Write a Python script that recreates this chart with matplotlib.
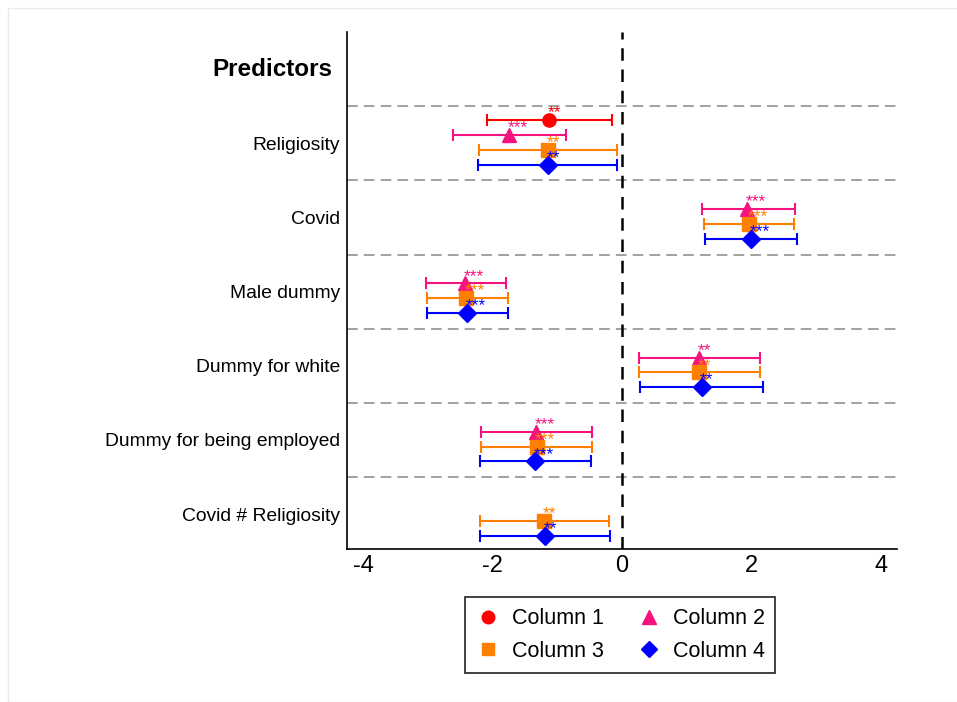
import numpy as np
import matplotlib; matplotlib.use('Agg')
import matplotlib.pyplot as plt
from matplotlib.lines import Line2D
from matplotlib.patches import Rectangle

plt.rcParams['font.family'] = ['Liberation Sans', 'DejaVu Sans']

# ── Data ──────────────────────────────────────────────────────────────────────
predictors = ['Religiosity', 'Covid', 'Male dummy', 'Dummy for white',
              'Dummy for being employed', 'Covid # Religiosity']

# coefficient, lower CI, upper CI, stars per predictor (None = not in model)
col1_coef  = [-1.13, None, None, None, None, None]
col1_lo    = [-2.09, None, None, None, None, None]
col1_hi    = [-0.15, None, None, None, None, None]
col1_stars = ['**', '', '', '', '', '']

col2_coef  = [-1.74, 1.93, -2.42, 1.19, -1.33, None]
col2_lo    = [-2.61, 1.24, -3.03, 0.27, -2.18, None]
col2_hi    = [-0.86, 2.67, -1.79, 2.14, -0.47, None]
col2_stars = ['***', '***', '***', '**', '***', '']

col3_coef  = [-1.14, 1.97, -2.41, 1.19, -1.32, -1.20]
col3_lo    = [-2.21, 1.27, -3.01, 0.27, -2.18, -2.19]
col3_hi    = [-0.08, 2.66, -1.76, 2.14, -0.47, -0.20]
col3_stars = ['**', '***', '***', '**', '***', '**']

col4_coef  = [-1.14, 1.99, -2.39, 1.23, -1.34, -1.19]
col4_lo    = [-2.22, 1.29, -3.01, 0.28, -2.19, -2.19]
col4_hi    = [-0.07, 2.70, -1.76, 2.18, -0.48, -0.19]
col4_stars = ['**', '***', '***', '**', '***', '**']

series = [
    ('Column 1', col1_coef, col1_lo, col1_hi, col1_stars, '#FF0000', 'o', 9.5, -0.31),
    ('Column 2', col2_coef, col2_lo, col2_hi, col2_stars, '#F5137F', '^', 10, -0.11),
    ('Column 3', col3_coef, col3_lo, col3_hi, col3_stars, '#FF7F00', 's', 9.5, 0.09),
    ('Column 4', col4_coef, col4_lo, col4_hi, col4_stars, '#0000FF', 'D', 9, 0.29),
]

# ── Figure ────────────────────────────────────────────────────────────────────
fig = plt.figure(figsize=(9.57, 7.02), dpi=100)
fig.patches.append(Rectangle((8/957, 0), 1, 1 - 8/702, transform=fig.transFigure,
                             fill=False, ec='#e6ebeb', lw=1))
ax = fig.add_axes([347/957, 1 - 549/702, 550/957, 517/702])

rows = np.arange(len(predictors))

for name, coef, lo, hi, stars, col, mk, ms, off in series:
    for i in rows:
        if coef[i] is None:
            continue
        y = i + off
        ax.errorbar(coef[i], y, xerr=[[coef[i] - lo[i]], [hi[i] - coef[i]]],
                    fmt='none', ecolor=col, elinewidth=1.5, capsize=4.5,
                    capthick=1.5, zorder=3)
        ax.plot(coef[i], y, marker=mk, color=col, ms=ms, mec=col, ls='none', zorder=4)
        if stars[i]:
            ax.annotate(stars[i], (coef[i], y), xytext=(-1, 2),
                        textcoords='offset points', color=col, fontsize=12.5,
                        ha='left', va='baseline', zorder=5)

# separators between predictors
for i in rows:
    ax.axhline(i - 0.5, color='#888888', lw=1.1, ls=(0, (7, 4)), zorder=1)
ax.axvline(0, color='black', lw=1.8, ls=(0, (5, 3.5)), zorder=2)

ax.set_xlim(-4.25, 4.25)
ax.set_ylim(5.47, -1.5)
ax.set_xticks([-4, -2, 0, 2, 4])
ax.set_xticklabels(['-4', '-2', '0', '2', '4'], fontsize=17)
ax.set_yticks(rows)
ax.set_yticklabels(predictors, fontsize=13.9)
ax.tick_params(axis='y', length=0, pad=5)
ax.tick_params(axis='x', length=0, pad=4)
for s in ['top', 'right']:
    ax.spines[s].set_visible(False)
for s in ['left', 'bottom']:
    ax.spines[s].set_linewidth(1.2)

fig.text(332/957, 1 - 69/702, 'Predictors', ha='right', va='center',
         fontsize=17.5, fontweight='bold')

# legend: Column 1 / Column 2 on first row, Column 3 / Column 4 on second
handles = {name: Line2D([], [], marker=mk, color=col, ls='none', ms=ms * 0.95)
           for name, _, _, _, _, col, mk, ms, _ in series}
order = ['Column 1', 'Column 3', 'Column 2', 'Column 4']
leg = fig.legend([handles[k] for k in order], order, ncol=2,
                 loc='center', bbox_to_anchor=(620/957, 1 - 635/702),
                 fontsize=15.5, frameon=True, fancybox=False, edgecolor='black',
                 handletextpad=0.5, columnspacing=1.5, borderpad=0.5,
                 labelspacing=0.55, handlelength=1.2)
leg.get_frame().set_linewidth(1.3)

fig.savefig('out.png', dpi=100)
